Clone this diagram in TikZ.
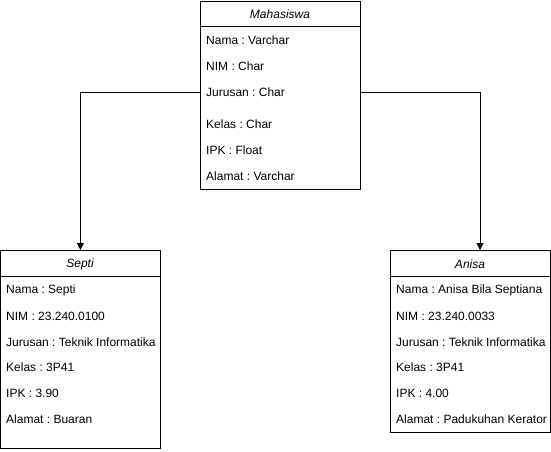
\documentclass[tikz,border=0pt]{standalone}
\usepackage{fontspec}
\setmainfont{Liberation Sans}
\usetikzlibrary{arrows.meta}
\frenchspacing
\begin{document}
\begin{tikzpicture}[x=1pt,y=-1pt,
  classbox/.style={draw=black,line width=0.8pt,rectangle,anchor=north west,inner sep=0pt,minimum width=160pt},
  title/.style={font=\fontsize{12}{14}\selectfont\itshape,anchor=center,inner sep=0pt},
  row/.style={font=\fontsize{12}{14}\selectfont,anchor=west,inner sep=0pt},
  conn/.style={draw=black,line width=0.8pt,-{Triangle[length=7pt,width=7pt]}}]
\useasboundingbox (0,0) rectangle (551,451);
% Mahasiswa
\node[classbox,minimum height=188pt] (mhs) at (200,1) {};
\draw[line width=0.8pt] (200,26) -- (360,26);
\node[title] (mt) at (280,14) {Mahasiswa};
\node[row] (m1) at (206,40) {Nama : Varchar};
\node[row] (m2) at (206,66) {NIM : Char};
\node[row] (m3) at (206,92) {Jurusan : Char};
\node[row] (m4) at (206,124) {Kelas : Char};
\node[row] (m5) at (206,150) {IPK : Float};
\node[row] (m6) at (206,176) {Alamat : Varchar};
% Septi
\node[classbox,minimum height=198pt] (sep) at (0,250) {};
\draw[line width=0.8pt] (0,276) -- (160,276);
\node[title] (st) at (80,264) {Septi};
\node[row] (s1) at (6,290) {Nama : Septi};
\node[row] (s2) at (6,316) {NIM : 23.240.0100};
\node[row] (s3) at (6,342) {Jurusan : Teknik Informatika};
\node[row] (s4) at (6,367) {Kelas : 3P41};
\node[row] (s5) at (6,393) {IPK : 3.90};
\node[row] (s6) at (6,419) {Alamat : Buaran};
% Anisa
\node[classbox,minimum height=182pt] (ani) at (390,250) {};
\draw[line width=0.8pt] (390,276) -- (550,276);
\node[title] (at) at (470,264) {Anisa};
\node[row] (a1) at (396,290) {Nama : Anisa Bila Septiana};
\node[row] (a2) at (396,316) {NIM : 23.240.0033};
\node[row] (a3) at (396,342) {Jurusan : Teknik Informatika};
\node[row] (a4) at (396,367) {Kelas : 3P41};
\node[row] (a5) at (396,393) {IPK : 4.00};
\node[row] (a6) at (396,419) {Alamat : Padukuhan Kerator};
\coordinate (anitop) at ([xshift=90pt]ani.north west);
% connectors
\draw[conn] (mhs.west |- m3) -| (sep.north);
\draw[conn] (mhs.east |- m3) -| (anitop);
\end{tikzpicture}
\end{document}
